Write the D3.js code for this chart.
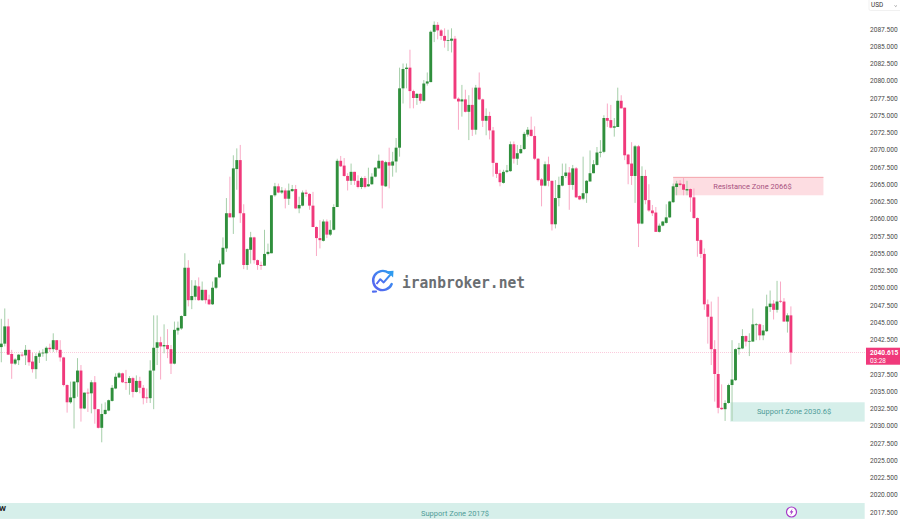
<!DOCTYPE html>
<html><head><meta charset="utf-8">
<script src="https://cdn.jsdelivr.net/npm/d3@7"></script>
<style>html,body{margin:0;padding:0;background:#fff}svg{display:block}</style>
</head><body><div id="chart"></div>
<script>
const opens=[2041.4,2041.9,2044.4,2040.4,2039.0,2039.5,2040.3,2040.2,2041.0,2039.3,
2038.2,2040.0,2040.5,2040.5,2041.3,2041.1,2042.4,2041.0,2039.9,2035.9,
2033.4,2034.0,2036.3,2038.0,2032.5,2034.8,2034.7,2036.3,2032.4,2029.7,
2031.7,2032.2,2033.6,2035.4,2037.0,2037.6,2036.3,2036.2,2036.9,2034.9,
2036.5,2035.5,2034.1,2034.0,2038.0,2041.3,2042.1,2041.5,2041.7,2041.1,
2039.0,2043.8,2044.1,2045.9,2052.9,2048.2,2048.7,2050.2,2048.2,2049.7,
2048.3,2047.6,2050.0,2051.5,2053.4,2055.7,2060.8,2060.2,2067.2,2068.5,
2060.8,2053.3,2055.5,2057.3,2054.0,2053.3,2053.2,2054.9,2055.0,2063.4,
2064.7,2063.8,2064.1,2062.9,2064.0,2064.3,2061.5,2061.9,2063.8,2063.6,
2061.9,2058.8,2057.2,2056.8,2059.6,2057.7,2058.4,2061.7,2068.4,2067.7,
2066.2,2065.5,2066.8,2065.5,2064.6,2065.9,2064.7,2065.0,2066.1,2067.3,
2068.4,2064.7,2068.2,2067.7,2068.3,2070.3,2078.9,2081.7,2081.9,2078.5,
2077.5,2078.1,2077.1,2079.6,2079.8,2087.1,2088.1,2087.3,2086.5,2085.8,
2085.8,2086.1,2077.4,2077.0,2077.3,2075.5,2076.5,2072.9,2079.0,2077.3,
2074.2,2074.9,2072.8,2068.1,2066.6,2065.2,2066.8,2066.9,2070.8,2068.7,
2069.5,2070.1,2072.2,2072.9,2072.0,2068.7,2065.7,2064.8,2067.9,2065.5,
2059.2,2063.0,2064.8,2066.2,2066.7,2064.9,2067.3,2063.3,2062.9,2063.7,
2065.4,2066.6,2067.8,2069.6,2069.7,2074.6,2074.3,2073.2,2073.3,2077.1,
2076.1,2069.3,2068.0,2066.2,2070.5,2059.3,2066.2,2062.7,2061.2,2060.9,
2058.1,2059.0,2059.4,2060.2,2062.4,2064.6,2065.1,2065.0,2064.1,2064.3,
2063.1,2060.1,2056.9,2054.9,2047.6,2045.8,2041.1,2037.5,2032.6,2032.4,
2033.3,2035.9,2036.6,2041.1,2041.2,2043.0,2042.2,2042.2,2044.6,2044.7,
2043.1,2043.7,2047.2,2047.7,2046.8,2048.1,2048.0,2045.1,2046.0];
const closes=[2041.9,2044.4,2040.3,2039.0,2039.6,2040.3,2040.2,2041.0,2039.2,2038.2,
2040.1,2040.5,2040.6,2041.3,2041.1,2042.4,2041.0,2039.9,2035.9,2033.4,
2034.1,2036.4,2038.0,2032.5,2034.8,2034.7,2036.3,2032.4,2029.7,2031.7,
2032.3,2033.7,2035.5,2037.1,2037.6,2036.3,2036.2,2036.9,2034.9,2036.5,
2035.5,2034.0,2034.0,2038.0,2041.3,2042.1,2041.5,2041.7,2041.1,2039.0,
2043.9,2044.2,2045.9,2052.9,2048.2,2048.8,2050.3,2048.2,2049.7,2048.2,
2047.6,2050.0,2051.5,2053.5,2055.8,2060.8,2060.2,2067.3,2068.5,2060.8,
2053.3,2055.6,2057.3,2054.0,2053.3,2053.2,2054.9,2055.2,2063.4,2064.7,
2063.8,2064.1,2062.9,2064.1,2064.3,2061.5,2062.0,2063.8,2063.6,2061.9,
2058.8,2057.2,2056.9,2059.6,2057.7,2058.4,2061.7,2068.4,2067.6,2066.2,
2065.5,2066.8,2065.5,2064.6,2065.9,2064.6,2065.0,2066.1,2067.4,2068.4,
2064.8,2068.2,2067.7,2068.3,2070.3,2078.9,2081.7,2081.9,2078.5,2077.5,
2078.1,2077.1,2079.6,2079.9,2087.1,2088.1,2087.3,2086.5,2085.8,2085.9,
2086.1,2077.4,2077.0,2077.3,2075.5,2076.5,2072.9,2079.0,2077.3,2074.2,
2074.9,2072.8,2068.1,2066.5,2065.3,2066.8,2067.0,2070.8,2068.7,2069.5,
2070.1,2072.3,2072.9,2072.0,2068.7,2065.6,2064.8,2067.9,2065.5,2059.2,
2063.0,2064.9,2066.2,2066.7,2064.9,2067.3,2063.1,2062.8,2063.7,2065.5,
2066.6,2067.9,2069.6,2069.7,2074.6,2074.2,2073.2,2073.4,2077.1,2076.0,
2069.2,2067.9,2066.2,2070.5,2059.3,2066.2,2062.7,2061.2,2060.8,2058.1,
2059.0,2059.6,2060.2,2062.5,2064.7,2065.1,2064.9,2064.2,2064.3,2063.1,
2060.1,2056.8,2054.9,2047.6,2045.8,2041.1,2037.5,2032.6,2032.4,2033.3,
2035.9,2036.7,2041.1,2041.3,2043.0,2042.2,2042.3,2044.7,2044.7,2043.1,
2043.8,2047.3,2047.7,2046.8,2048.0,2048.0,2045.1,2046.0,2040.615];
const highs=[2045.5,2047.0,2045.5,2041.0,2039.8,2040.4,2040.7,2041.7,2041.0,2040.6,
2040.5,2040.9,2041.1,2041.5,2041.9,2043.4,2042.4,2042.4,2040.0,2036.0,
2036.4,2036.4,2039.8,2038.8,2034.8,2035.4,2036.6,2037.2,2032.4,2033.2,
2033.4,2033.8,2035.9,2037.6,2037.8,2037.7,2038.1,2037.2,2037.1,2037.3,
2037.1,2035.9,2035.4,2039.5,2046.0,2046.0,2042.9,2044.7,2044.0,2041.7,
2045.1,2045.1,2046.0,2055.0,2054.0,2051.1,2051.1,2051.5,2050.9,2049.7,
2049.0,2050.9,2051.5,2054.0,2057.3,2063.0,2066.1,2069.2,2070.2,2070.7,
2062.1,2055.7,2058.1,2057.4,2054.1,2053.8,2058.4,2056.4,2063.4,2065.2,
2065.1,2064.6,2064.4,2065.1,2064.9,2064.9,2063.2,2064.1,2064.2,2063.7,
2063.9,2058.9,2059.8,2059.9,2059.9,2059.8,2062.1,2068.7,2069.1,2068.8,
2066.6,2068.0,2066.8,2066.3,2066.1,2066.2,2067.4,2066.6,2067.5,2069.3,
2068.5,2068.4,2070.3,2069.7,2071.7,2081.9,2082.5,2082.5,2084.5,2078.7,
2078.2,2078.2,2080.1,2081.2,2087.3,2088.6,2088.5,2087.5,2087.6,2087.4,
2087.6,2086.5,2077.6,2079.4,2078.7,2077.9,2079.0,2079.4,2081.2,2077.4,
2076.0,2075.5,2073.3,2068.1,2067.1,2067.1,2067.8,2071.2,2071.2,2070.7,
2070.7,2072.6,2073.3,2074.8,2073.4,2068.8,2065.9,2068.3,2069.0,2065.5,
2065.6,2066.1,2068.0,2068.0,2067.5,2067.8,2067.5,2063.4,2069.0,2065.6,
2069.9,2068.5,2070.4,2071.4,2075.0,2076.7,2076.5,2074.6,2079.0,2077.9,
2076.1,2069.4,2071.1,2070.7,2070.7,2067.6,2067.1,2065.0,2062.0,2061.7,
2059.3,2059.7,2062.1,2062.6,2065.1,2065.5,2065.6,2065.9,2065.5,2064.4,
2064.4,2060.2,2057.0,2055.7,2048.3,2048.0,2042.4,2048.7,2036.0,2033.7,
2036.1,2042.4,2041.2,2042.0,2044.0,2043.1,2043.4,2047.0,2044.9,2044.8,
2044.6,2049.0,2049.6,2048.2,2051.0,2050.9,2048.5,2046.3,2047.3];
const lows=[2039.2,2041.5,2040.3,2036.8,2038.8,2038.8,2040.0,2038.8,2038.7,2037.7,
2036.8,2039.1,2040.0,2039.4,2040.7,2040.7,2040.7,2039.3,2035.7,2031.9,
2033.2,2029.6,2034.2,2030.6,2032.4,2032.0,2031.8,2030.3,2029.6,2027.6,
2031.6,2032.1,2033.5,2035.3,2036.9,2036.2,2035.2,2034.5,2034.1,2034.8,
2034.7,2033.1,2033.3,2033.3,2032.4,2038.8,2036.7,2040.5,2039.8,2037.5,
2038.9,2043.2,2043.9,2045.9,2047.3,2046.9,2048.2,2048.1,2048.1,2047.7,
2047.5,2047.5,2049.8,2051.4,2053.3,2055.2,2060.2,2057.8,2064.2,2059.4,
2052.7,2052.6,2053.5,2053.5,2052.6,2052.6,2053.2,2054.7,2055.0,2063.2,
2063.7,2063.6,2061.5,2062.0,2063.9,2061.4,2060.8,2061.8,2063.2,2061.3,
2058.8,2054.6,2055.7,2056.7,2057.2,2057.5,2058.3,2061.7,2067.5,2066.1,
2064.1,2064.9,2064.9,2064.4,2064.3,2064.4,2064.6,2064.9,2066.0,2067.3,
2061.5,2064.6,2064.4,2066.1,2066.7,2069.0,2076.7,2078.9,2076.0,2076.0,
2076.5,2076.7,2077.0,2079.3,2079.8,2085.6,2086.0,2085.9,2084.8,2084.3,
2084.1,2077.3,2072.9,2074.8,2075.4,2071.4,2072.0,2072.2,2077.2,2073.3,
2072.1,2071.5,2066.1,2065.9,2064.7,2065.1,2066.6,2066.8,2068.0,2067.8,
2069.4,2070.0,2071.9,2071.9,2068.5,2065.4,2061.8,2064.7,2064.7,2058.3,
2058.6,2061.8,2064.7,2065.9,2061.3,2064.2,2063.0,2062.7,2062.7,2062.3,
2065.4,2066.6,2067.7,2068.9,2069.5,2073.3,2073.1,2071.9,2073.3,2076.0,
2068.5,2065.0,2064.9,2062.3,2055.9,2059.2,2062.1,2061.0,2060.4,2058.1,
2058.0,2058.9,2059.3,2060.1,2062.3,2063.4,2064.7,2063.4,2063.4,2061.0,
2060.0,2054.5,2054.3,2046.8,2041.9,2038.8,2033.5,2031.8,2032.3,2030.7,
2033.2,2030.7,2036.5,2040.3,2041.1,2041.5,2040.1,2042.2,2042.4,2042.4,
2042.4,2043.6,2046.5,2045.4,2046.4,2047.8,2045.1,2043.5,2038.9];
const lastPrice=2040.615;
const priceTicks=d3.range(2017.5,2088,2.5).filter(t=>Math.abs(t-lastPrice)>1);
const countdown="03:28";
const zones=[
 {label:"Resistance Zone 2066$",from:194,to:237.4,top:2066.0,bottom:2063.4,labelAt:216.9,labelPrice:2064.7,fill:"#fddde2",text:"#a8527f",line:"#f4a3ab"},
 {label:"Support Zone 2030.6$",from:210.5,to:249.3,top:2033.4,bottom:2030.6,labelAt:228.9,labelPrice:2032.1,fill:"#d6efea",text:"#4f9c98",line:null},
 {label:"Support Zone 2017$",from:-0.4,to:249.3,top:2018.8,bottom:2016.5,labelAt:131,labelPrice:2017.35,fill:"#d6efea",text:"#4f9c98",line:null}
];

const W=900,H=520,plotRight=867;
const GREEN="#2f8f3c",RED="#f0397b",GREEN_W="#a6cfaa",RED_W="#f9aac6";
const x=d3.scaleLinear().domain([0,228]).range([1.3,790.9]);
const y=d3.scaleLinear().domain([2017.5,2087.5]).range([512,29]);
const data=opens.map((o,i)=>({i,o,c:closes[i],h:highs[i],l:lows[i]}));
const up=d=>d.c>=d.o;
const FONT="Roboto, 'Liberation Sans', sans-serif";

const svg=d3.select("#chart").append("svg").attr("width",W).attr("height",H).attr("viewBox",`0 0 ${W} ${H}`);
svg.append("rect").attr("width",W).attr("height",H).attr("fill","#fff");

// zones
const z=svg.append("g").selectAll("g").data(zones).join("g");
z.append("rect").attr("x",d=>x(d.from)).attr("width",d=>x(d.to)-x(d.from))
 .attr("y",d=>y(d.top)).attr("height",d=>y(d.bottom)-y(d.top)).attr("fill",d=>d.fill);
z.filter(d=>d.line).append("line").attr("x1",d=>x(d.from)).attr("x2",d=>x(d.to))
 .attr("y1",d=>y(d.top)).attr("y2",d=>y(d.top)).attr("stroke",d=>d.line).attr("stroke-width",1);

// last price line
svg.append("line").attr("x1",0).attr("x2",plotRight).attr("y1",y(lastPrice)).attr("y2",y(lastPrice))
 .attr("stroke","#fbcbdc").attr("stroke-width",1).attr("stroke-dasharray","1 1");

// watermark logo
const logo=svg.append("g").attr("transform","translate(382.5,281)");
const defs=svg.append("defs");
const grad=defs.append("linearGradient").attr("id","lg").attr("x1",0).attr("y1",1).attr("x2",1).attr("y2",0);
grad.append("stop").attr("offset",0).attr("stop-color","#5b5ff0");
grad.append("stop").attr("offset",1).attr("stop-color","#2f9bef");
logo.append("path").attr("d","M6,-8.2 A9.6,9.6 0 1 0 9.2,3").attr("fill","none").attr("stroke","url(#lg)").attr("stroke-width",2.4).attr("stroke-linecap","round");
logo.append("path").attr("d","M-6.5,10.5 L-9.5,10.6").attr("stroke","#4f6cf0").attr("stroke-width",2.2).attr("stroke-linecap","round");
logo.append("path").attr("d","M-6,3 L-2.2,-1.8 L1.2,1.4 L8.5,-7").attr("fill","none").attr("stroke","url(#lg)").attr("stroke-width",2).attr("stroke-linejoin","round");
logo.append("path").attr("d","M4.4,-9.8 L11,-10.2 L10.6,-3.6 Z").attr("fill","#2f9bef");
svg.append("text").attr("x",402).attr("y",288).attr("font-family","'DejaVu Sans Mono',monospace").attr("font-weight",700)
 .attr("font-size",16.5).attr("textLength",123).attr("lengthAdjust","spacingAndGlyphs").attr("fill","#6a6e72").text("iranbroker.net");

// wicks and bodies
const candles=svg.append("g");
candles.selectAll("rect.w").data(data).join("rect").attr("class","w")
 .attr("x",d=>x(d.i)-0.5).attr("width",1)
 .attr("y",d=>y(d.h)).attr("height",d=>Math.max(0.5,y(d.l)-y(d.h)))
 .attr("fill",d=>up(d)?GREEN_W:RED_W);
candles.selectAll("rect.b").data(data).join("rect").attr("class","b")
 .attr("x",d=>x(d.i)-1.45).attr("width",2.9)
 .attr("y",d=>y(Math.max(d.o,d.c))).attr("height",d=>Math.max(0.8,Math.abs(y(d.o)-y(d.c))))
 .attr("fill",d=>up(d)?GREEN:RED);

// zone labels
z.append("text").attr("x",d=>x(d.labelAt)).attr("y",d=>y(d.labelPrice)+2.7)
 .attr("text-anchor","middle").attr("font-family",FONT).attr("font-size",7.5).attr("fill",d=>d.text).text(d=>d.label);

// price axis
const axis=d3.axisRight(y).tickValues(priceTicks).tickSize(0).tickPadding(0).tickFormat(d3.format(".3f"));
const ag=svg.append("g").attr("transform","translate(870,0)").call(axis);
ag.select(".domain").remove();
ag.selectAll("text").attr("font-family",FONT).attr("font-size",6.6).attr("fill","#4a4a4a");

// last price tag
svg.append("rect").attr("x",866).attr("y",y(lastPrice)-4.8).attr("width",34).attr("height",17).attr("fill",RED);
svg.append("text").attr("x",870).attr("y",y(lastPrice)+2.6).attr("font-family",FONT).attr("font-weight",700).attr("font-size",6.6).attr("fill","#fff").text(d3.format(".3f")(lastPrice));
svg.append("text").attr("x",870).attr("y",y(lastPrice)+10).attr("font-family",FONT).attr("font-size",6.4).attr("fill","#fff").text(countdown);

// currency selector
svg.append("rect").attr("x",869).attr("y",-2).attr("width",34).attr("height",12.5).attr("rx",1.5).attr("fill","#fff").attr("stroke","#ebebeb").attr("stroke-width",.7);
svg.append("text").attr("x",871).attr("y",7).attr("font-family",FONT).attr("font-size",6.4).attr("fill","#333").text("USD");
svg.append("path").attr("d","M894.5,5.5 l1.2,1 l1.2,-1").attr("fill","none").attr("stroke","#666").attr("stroke-width",.6);

// period marker
svg.append("text").attr("x",-1).attr("y",511).attr("font-family",FONT).attr("font-weight",700).attr("font-size",8).attr("fill","#222").text("W");

// lightning badge
svg.append("circle").attr("cx",791.5).attr("cy",512).attr("r",5).attr("fill","#fff").attr("stroke","#a63ac8").attr("stroke-width",1.2);
svg.append("path").attr("d","M792.6,508.4 L789.6,512.6 L791.3,512.6 L790.4,515.6 L793.4,511.3 L791.6,511.3 Z").attr("fill","#a63ac8");
</script></body></html>
